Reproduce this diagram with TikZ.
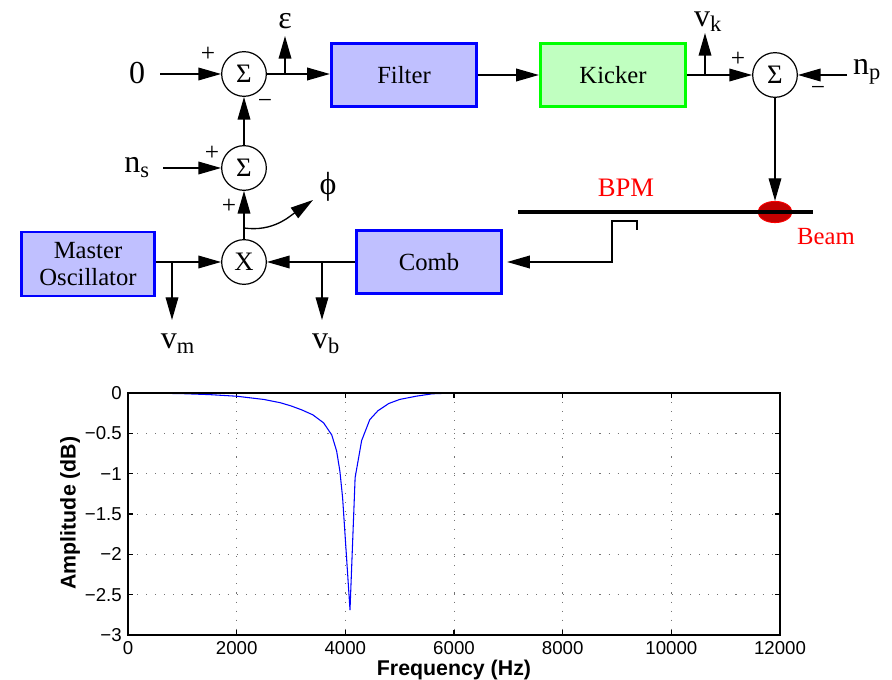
\documentclass[tikz,border=0pt]{standalone}
\usepackage{fontspec}
\setmainfont{Liberation Serif}
\newfontfamily\plotfont{Liberation Sans}
\usepackage{xcolor}
\usepackage{tikz}
\usetikzlibrary{arrows.meta,positioning,shapes.geometric}

\definecolor{blockblue}{RGB}{192,192,255}
\definecolor{kickgreen}{RGB}{192,255,192}
\definecolor{beamred}{RGB}{195,0,0}

\begin{document}
\begin{tikzpicture}[x=0.75pt,y=-0.75pt,
    >={Triangle[length=17pt,width=9.5pt]},
    sumnode/.style={circle,draw,line width=0.9pt,minimum size=33.5pt,inner sep=0pt,font=\fontsize{20}{20}\selectfont},
    block/.style={rectangle,draw=blue,line width=2.2pt,fill=blockblue,minimum width=109pt,minimum height=47pt,align=center,font=\fontsize{18.5}{20}\selectfont},
    sig/.style={inner sep=1pt,font=\fontsize{24}{24}\selectfont},
    sgn/.style={inner sep=0pt,font=\fontsize{19}{19}\selectfont},
    wire/.style={line width=1pt},
    gridline/.style={black!55,line width=0.6pt,dash pattern=on 0.8pt off 6pt},
    ticklbl/.style={inner sep=1.5pt,font=\plotfont\fontsize{14}{14}\selectfont},
    axlbl/.style={inner sep=0pt,font=\plotfont\bfseries\fontsize{16}{16}\selectfont}]
  \useasboundingbox (0,0) rectangle (892,680);

  % upper loop
  \node[sig] (zero) at (137,73) {0};
  \node[sumnode] (s1) at (244,74) {Σ};
  \node[block] (filter) at (404,75) {Filter};
  \node[block,draw=green,fill=kickgreen] (kicker) at (613,75) {Kicker};
  \node[sumnode] (s3) at (775,75) {Σ};
  \node[sig] (np) at (867,72) {n\textsubscript{p}};
  \node[sig] (eps) at (285,21) {ε};
  \node[sig] (vk) at (708,22) {v\textsubscript{k}};
  \node[sgn] (p1) at (208,54) {+};
  \node[sgn] (m1) at (265,104) {−};
  \node[sgn] (p4) at (738,59) {+};
  \node[sgn] (m4) at (818,91) {−};

  % lower loop
  \node[sig] (ns) at (137,168) {n\textsubscript{s}};
  \node[sumnode] (s2) at (244,168) {Σ};
  \node[sumnode] (mix) at (244,262) {X};
  \node[block,minimum width=100pt,minimum height=48pt] (osc) at (88,264) {Master\\Oscillator};
  \node[block] (comb) at (429,262) {Comb};
  \node[sig] (phi) at (328,187) {ϕ};
  \node[sig] (vm) at (178,344) {v\textsubscript{m}};
  \node[sig] (vb) at (326,344) {v\textsubscript{b}};
  \node[sgn] (p2) at (212,153) {+};
  \node[sgn] (p3) at (229,206) {+};

  % beam position monitor
  \node[ellipse,fill=beamred,draw=red,line width=0.6pt,minimum width=25.5pt,minimum height=16pt,inner sep=0pt] (beam) at (775,212) {};
  \coordinate (bpmL) at (518,212);
  \coordinate (bpmR) at (813,212);
  \draw[line width=3pt] (bpmL) -- (bpmR);
  \node[red,font=\fontsize{20}{20}\selectfont] (bpm) at (626,188) {BPM};
  \node[red,font=\fontsize{18.5}{18}\selectfont] (beamlbl) at (826,237) {Beam};

  \coordinate (zin) at (160,74);
  \coordinate (npin) at (847,75);
  \coordinate (nsin) at (163,168);
  \coordinate (epsb) at (285,74);
  \coordinate (epst) at (285,36);
  \coordinate (vkb) at (705,75);
  \coordinate (vkt) at (705,33);
  \coordinate (vmb) at (172,263);
  \coordinate (vmt) at (172,320);
  \coordinate (vbb) at (322,262);
  \coordinate (vbt) at (322,320);
  \coordinate (phis) at (244,228);
  \coordinate (phit) at (313,200);
  \coordinate (pick) at (637,230);

  \draw[wire,->] (zin) -- (s1);
  \draw[wire,->] (s1) -- (s1 -| filter.west);
  \draw[wire,->] (epsb) -- (epst);
  \draw[wire,->] (filter) -- (kicker);
  \draw[wire,->] (kicker) -- (s3);
  \draw[wire,->] (vkb) -- (vkt);
  \draw[wire,->] (npin) -- (s3);
  \draw[wire,->] (s3) -- (beam.north);
  \draw[wire,->] (s2) -- (s1);
  \draw[wire,->] (nsin) -- (s2);
  \draw[wire,->] (mix) -- (s2);
  \draw[wire,->] (phis) to[out=-8,in=215] (phit);
  \draw[wire,->] (osc.east |- mix) -- (mix);
  \draw[wire,->] (comb) -- (mix);
  \draw[wire,->] (vmb) -- (vmt);
  \draw[wire,->] (vbb) -- (vbt);
  \draw[wire,->,shorten >=3pt] (pick) -- ++(0,-9) -- ++(-25,0) |- (comb.east);

  % frequency response
  \begin{scope}[shift={(128,393)},x=40.75pt,y=60.5pt]
    \foreach \f in {2,4,...,10} {
      \draw[gridline] (\f,0) -- (\f,-3);
      \draw[line width=0.8pt] (\f,0) -- ++(0,-3.75pt) (\f,-3) -- ++(0,3.75pt);
    }
    \foreach \d in {0.5,1,...,2.5} {
      \draw[gridline] (0,-\d) -- (12,-\d);
      \draw[line width=0.8pt] (0,-\d) -- ++(3.75pt,0) (12,-\d) -- ++(-3.75pt,0);
    }
    \draw[blue,line width=0.8pt] plot coordinates {(0,0) (0.5,-0.002) (1,-0.008) (1.5,-0.02) (2,-0.04)
      (2.5,-0.08) (2.8,-0.12) (3,-0.16) (3.2,-0.21) (3.4,-0.27) (3.6,-0.37) (3.75,-0.52) (3.84,-0.72)
      (3.9,-0.97) (3.95,-1.3) (4.086,-2.69) (4.18,-1.05) (4.3,-0.59) (4.45,-0.33) (4.6,-0.22)
      (4.8,-0.13) (5,-0.08) (5.3,-0.04) (5.6,-0.01) (6,0) (11.2,0)};
    \draw[line width=1.1pt] (0,0) rectangle (12,-3);
    \foreach \f/\t in {0/0,2/2000,4/4000,6/6000,8/8000,10/10000,12/12000}
      \node[ticklbl,anchor=north] (xt\f) at ([yshift=-3pt]\f,-3) {\t};
    \foreach \d/\t in {0/0,0.5/−0.5,1/−1,1.5/−1.5,2/−2,2.5/−2.5,3/−3}
      \node[ticklbl,anchor=east] (yt\d) at ([xshift=-3pt]0,-\d) {\t};
  \end{scope}
  \node[axlbl,rotate=90] (ylab) at (70,513) {Amplitude (dB)};
  \node[axlbl] (xlab) at (454,670) {Frequency (Hz)};
\end{tikzpicture}
\end{document}
